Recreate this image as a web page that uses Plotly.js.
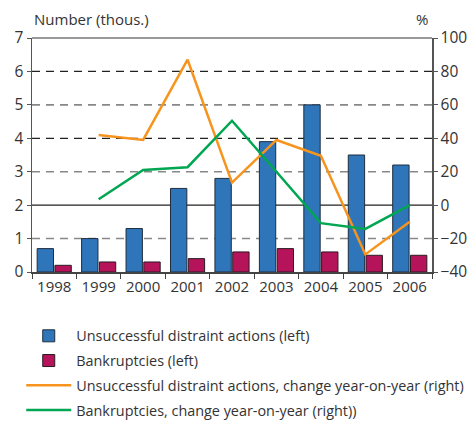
<!DOCTYPE html>
<html>
<head>
<meta charset="utf-8">
<script src="https://cdn.plot.ly/plotly-3.0.1.min.js"></script>
<style>html,body{margin:0;padding:0;background:#fff;}#chart{width:472px;height:421px;}</style>
</head>
<body>
<div id="chart"></div>
<script>
const years = ['1998','1999','2000','2001','2002','2003','2004','2005','2006'];
const distraint = [0.7, 1.0, 1.3, 2.5, 2.8, 3.9, 5.0, 3.5, 3.2];
const bankruptcies = [0.2, 0.3, 0.3, 0.4, 0.6, 0.7, 0.6, 0.5, 0.5];
const distraintChange = [null, 42, 39, 87, 13.5, 39, 29.5, -29.5, -10];
const bankruptciesChange = [null, 3.5, 21, 22.7, 50.5, 20, -10.8, -14.2, 0];
const gridDark = [6, 4];
const gridLight = [5, 3, 1];
const zeroRightOnLeft = [2];

const font = {family: 'Open Sans, sans-serif', size: 14, color: '#333'};

const traces = [
  {type:'bar', name:'Unsuccessful distraint actions (left)', x:years, y:distraint,
   marker:{color:'#2E75BA', line:{color:'#1f2d3d', width:1}}, legendgroup:'a'},
  {type:'bar', name:'Bankruptcies (left)', x:years, y:bankruptcies,
   marker:{color:'#B5135A', line:{color:'#2a1a22', width:1}}, legendgroup:'b'},
  {type:'scatter', mode:'lines', name:'Unsuccessful distraint actions, change year-on-year (right)',
   x:years, y:distraintChange, yaxis:'y2', line:{color:'#F7941D', width:2.5}, legendgroup:'c'},
  {type:'scatter', mode:'lines', name:'Bankruptcies, change year-on-year (right))',
   x:years, y:bankruptciesChange, yaxis:'y2', line:{color:'#00A651', width:2.5}, legendgroup:'d'}
];

const shapes = [];
gridDark.forEach(v => shapes.push({type:'line', xref:'paper', yref:'y', x0:0, x1:1, y0:v, y1:v, layer:'below', line:{color:'#222', width:1.2, dash:'8px,6px'}}));
gridLight.forEach(v => shapes.push({type:'line', xref:'paper', yref:'y', x0:0, x1:1, y0:v, y1:v, layer:'below', line:{color:'#888', width:1.6, dash:'8px,6px'}}));
zeroRightOnLeft.forEach(v => shapes.push({type:'line', xref:'paper', yref:'y', x0:0, x1:1, y0:v, y1:v, layer:'below', line:{color:'#222', width:1.2}}));
shapes.push({type:'line', xref:'paper', yref:'paper', x0:0, x1:1, y0:1, y1:1, line:{color:'#777', width:1.5}});

const layout = {
  width:472, height:421,
  margin:{l:32, r:40, t:38, b:149, autoexpand:false},
  paper_bgcolor:'#fff', plot_bgcolor:'#fff',
  font:font,
  showlegend:true,
  barmode:'group', bargap:0.2, bargroupgap:0.08,
  xaxis:{type:'category', showline:true, linecolor:'#444', linewidth:1.5, ticks:'outside', tickson:'boundaries',
         ticklen:5, tickcolor:'#444', tickfont:{size:15}, showgrid:false, zeroline:false},
  yaxis:{range:[0,7], dtick:1, showline:true, linecolor:'#555', linewidth:1.5, ticks:'outside', ticklen:4,
         tickcolor:'#555', tickfont:{size:15.5}, showgrid:false, zeroline:false},
  yaxis2:{range:[-40,100], dtick:20, overlaying:'y', side:'right', showline:true, linecolor:'#555', linewidth:1.5,
          ticks:'outside', ticklen:4, tickcolor:'#555', tickfont:{size:15.5}, showgrid:false, zeroline:false},
  shapes:shapes,
  annotations:[
    {text:'Number (thous.)', xref:'paper', yref:'paper', x:0, y:1, xanchor:'left', yanchor:'bottom', yshift:7, showarrow:false, font:{size:15}},
    {text:'%', xref:'paper', yref:'paper', x:1, y:1, xanchor:'right', yanchor:'bottom', xshift:-2, yshift:7, showarrow:false, font:{size:15}}
  ],
  legend:{orientation:'v', xref:'container', yref:'container', x:0.045, xanchor:'left', y:0.24, yanchor:'top',
          tracegroupgap:3, font:{size:14.4, color:'#333'}, itemwidth:45, bgcolor:'rgba(0,0,0,0)'}
};

Plotly.newPlot('chart', traces, layout, {displayModeBar:false, staticPlot:true});
</script>
</body>
</html>
